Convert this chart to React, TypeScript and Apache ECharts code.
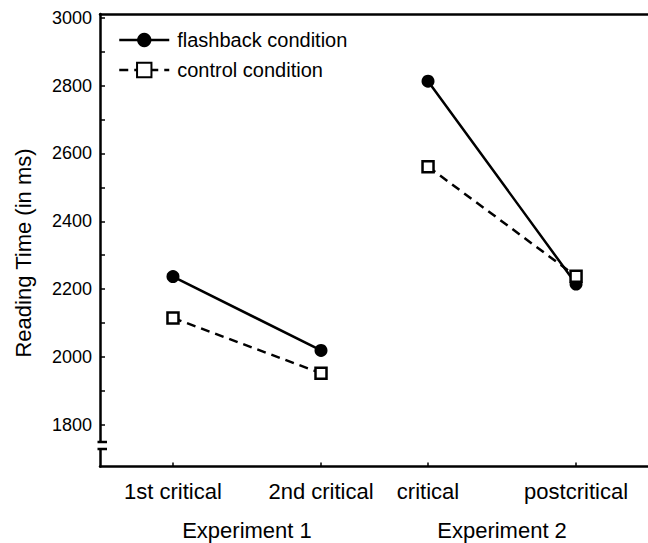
import React, { useEffect, useRef } from "react";
import * as echarts from "echarts";

const categories = ["1st critical", "2nd critical", "critical", "postcritical"];
const experiments = ["Experiment 1", "Experiment 2"];
const seriesNames = ["flashback condition", "control condition"];
const flashback = [2237, 2019, 2813, 2215];
const control = [2115, 1952, 2561, 2238];
const yTickLabels = [1800, 2000, 2200, 2400, 2600, 2800, 3000];
const yTicks = [1800, 1900, 2000, 2100, 2200, 2300, 2400, 2500, 2600, 2700, 2800, 2900, 3000];

// layout: horizontal slot of each condition on the x axis (uneven spacing in the figure)
const slots = [1, 2, 2.723, 3.723];

const FONT = "'Liberation Sans', Arial, Helvetica, sans-serif";

export default function App() {
  const ref = useRef<HTMLDivElement>(null);
  useEffect(() => {
    if (!ref.current) return;
    const chart = echarts.init(ref.current, null, { renderer: "svg" });
    const labelFor = (v: number) => {
      const i = slots.findIndex((s) => Math.abs(s - v) < 1e-6);
      return i >= 0 ? categories[i] : "";
    };
    const seg = (arr: number[]) => [
      [slots[0], arr[0]],
      [slots[1], arr[1]],
      "-",
      [slots[2], arr[2]],
      [slots[3], arr[3]],
    ];
    chart.setOption({
      animation: false,
      backgroundColor: "#fff",
      textStyle: { fontFamily: FONT },
      grid: { left: 100, right: 0, top: 14, bottom: 76.5, containLabel: false },
      legend: {
        orient: "vertical",
        left: 113,
        top: 25,
        itemWidth: 50,
        itemHeight: 18,
        itemGap: 10,
        lineStyle: { width: 2.5 },
        textStyle: { fontFamily: FONT, fontSize: 20, color: "#000", padding: [0, 0, 0, 3] },
        data: seriesNames,
      },
      xAxis: [
        {
          type: "value",
          min: 0.507,
          max: 4.209,
          axisLine: { lineStyle: { color: "#000", width: 2.5 } },
          axisTick: {
            show: true,
            inside: true,
            length: 4,
            lineStyle: { color: "#000", width: 1.5 },
            customValues: slots,
          },
          axisLabel: {
            customValues: slots,
            formatter: (v: number) => labelFor(v),
            color: "#000",
            fontFamily: FONT,
            fontSize: 22,
            margin: 14,
          },
          splitLine: { show: false },
        },
        {
          type: "value",
          position: "top",
          min: 0.507,
          max: 4.209,
          axisLine: { show: true, lineStyle: { color: "#000", width: 2.5 } },
          axisTick: { show: false },
          axisLabel: { show: false },
          splitLine: { show: false },
        },
      ],
      yAxis: {
        type: "value",
        min: 1677,
        max: 3011,
        axisLine: { show: true, lineStyle: { color: "#000", width: 2.5 } },
        axisTick: {
          show: true,
          inside: true,
          length: 5,
          lineStyle: { color: "#000", width: 1.5 },
          customValues: yTicks,
        },
        axisLabel: {
          customValues: yTickLabels,
          formatter: (v: number) => String(v),
          color: "#000",
          fontFamily: FONT,
          fontSize: 18,
          margin: 8,
        },
        splitLine: { show: false },
      },
      series: [
        {
          name: seriesNames[0],
          type: "line",
          data: seg(flashback),
          symbol: "circle",
          symbolSize: 13,
          itemStyle: { color: "#000" },
          lineStyle: { color: "#000", width: 2.5, type: "solid" },
          z: 3,
        },
        {
          name: seriesNames[1],
          type: "line",
          data: seg(control),
          symbol: "rect",
          symbolSize: 11,
          itemStyle: { color: "#fff", borderColor: "#000", borderWidth: 2.5 },
          lineStyle: { color: "#000", width: 2.5, type: [9, 6] },
          z: 4,
        },
      ],
    });

    const p1 = chart.convertToPixel({ gridIndex: 0 }, [(slots[0] + slots[1]) / 2, 3000]) as number[];
    const p2 = chart.convertToPixel({ gridIndex: 0 }, [(slots[2] + slots[3]) / 2, 3000]) as number[];
    const axisX = 100;
    chart.setOption({
      graphic: [
        {
          type: "text",
          x: p1[0],
          y: 530,
          style: { text: experiments[0], font: `22px ${FONT}`, fill: "#000", align: "center", verticalAlign: "middle" },
        },
        {
          type: "text",
          x: p2[0],
          y: 530,
          style: { text: experiments[1], font: `22px ${FONT}`, fill: "#000", align: "center", verticalAlign: "middle" },
        },
        {
          type: "text",
          x: 23,
          y: 253,
          rotation: Math.PI / 2,
          style: { text: "Reading Time (in ms)", font: `22px ${FONT}`, fill: "#000", align: "center", verticalAlign: "middle" },
        },
        {
          type: "rect",
          shape: { x: axisX - 4, y: 443, width: 8, height: 5 },
          style: { fill: "#fff" },
          z: 100,
        },
        {
          type: "line",
          shape: { x1: axisX - 2.5, y1: 442, x2: axisX + 7, y2: 442 },
          style: { stroke: "#000", lineWidth: 2.5 },
          z: 101,
        },
        {
          type: "line",
          shape: { x1: axisX - 2.5, y1: 449, x2: axisX + 7, y2: 449 },
          style: { stroke: "#000", lineWidth: 2.5 },
          z: 101,
        },
      ],
    });
    return () => chart.dispose();
  }, []);
  return <div ref={ref} style={{ width: 648, height: 543, position: "absolute", left: 0, top: 0 }} />;
}
